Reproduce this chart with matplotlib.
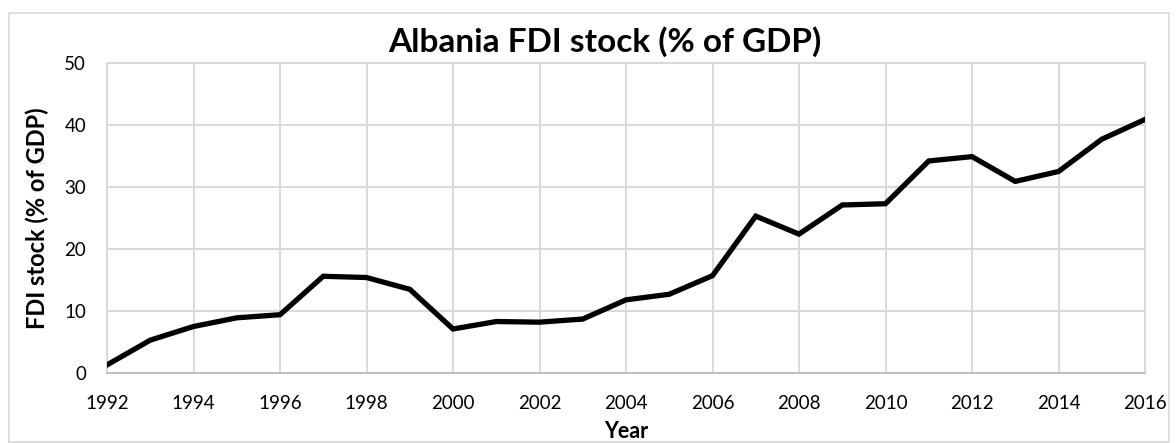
import matplotlib
matplotlib.use("Agg")
import matplotlib.pyplot as plt
from matplotlib.patches import Rectangle

# data
years = list(range(1992, 2017))
fdi_stock = [1.3, 5.3, 7.5, 8.9, 9.4, 15.6, 15.4, 13.5, 7.1, 8.3, 8.2, 8.7,
             11.8, 12.7, 15.7, 25.3, 22.4, 27.1, 27.3, 34.2, 34.9, 30.9, 32.5, 37.7, 40.9]
x_ticks = list(range(1992, 2017, 2))
y_ticks = [0, 10, 20, 30, 40, 50]

plt.rcParams['font.family'] = ['Lato', 'DejaVu Sans']

fig = plt.figure(figsize=(11.76, 4.43), dpi=100)
ax = fig.add_axes([107 / 1176, 70 / 443, (1145 - 107) / 1176, (373 - 63) / 443])

ax.plot(years, fdi_stock, color='black', linewidth=3.8, solid_joinstyle='miter', zorder=3)

ax.set_xlim(1992, 2016)
ax.set_ylim(0, 50)
ax.set_xticks(x_ticks)
ax.set_yticks(y_ticks)
ax.tick_params(axis='both', length=0, labelsize=13.5)
ax.tick_params(axis='x', pad=16)
ax.tick_params(axis='y', pad=15)
ax.grid(True, color='#d9d9d9', linewidth=1.4)
ax.set_axisbelow(True)
for side in ['top', 'right', 'bottom', 'left']:
    ax.spines[side].set_color('#d9d9d9')
    ax.spines[side].set_linewidth(1.4)
ax.spines['bottom'].set_color('#bfbfbf')

ax.set_xlabel('Year', fontsize=15.5, fontweight='bold')
ax.xaxis.label.set_va('center')
ax.xaxis.set_label_coords(0.5, (373 - 432) / 310)
ax.set_ylabel('FDI stock (% of GDP)', fontsize=17, fontweight='bold', labelpad=11)
fig.text(605 / 1176, 1 - 42 / 443, 'Albania FDI stock (% of GDP)', ha='center', va='center',
         fontsize=24, fontweight='bold')

# light outer frame like the spreadsheet chart area
fig.patches.append(Rectangle((9 / 1176, 1 / 443), 1160 / 1176, 429 / 443,
                             transform=fig.transFigure, fill=False,
                             edgecolor='#d9d9d9', linewidth=1.2))

fig.savefig('out.png', dpi=100)
